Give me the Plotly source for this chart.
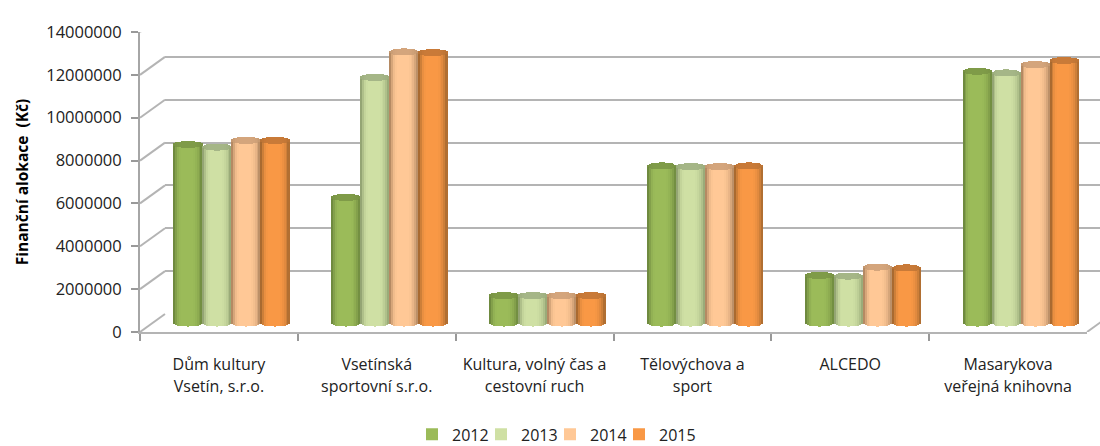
import math
import plotly.graph_objects as go

W, H = 1100, 446
labels_line1 = ["Dům kultury", "Vsetínská", "Kultura, volný čas a", "Tělovýchova a", "ALCEDO", "Masarykova"]
labels_line2 = ["Vsetín, s.r.o.", "sportovní s.r.o.", "cestovní ruch", "sport", " ", "veřejná knihovna"]
years = ["2012", "2013", "2014", "2015"]
values_2012 = [8330000, 5860000, 1280000, 7330000, 2220000, 11750000]
values_2013 = [8210000, 11460000, 1280000, 7300000, 2190000, 11670000]
values_2014 = [8520000, 12650000, 1280000, 7300000, 2610000, 12060000]
values_2015 = [8520000, 12620000, 1280000, 7330000, 2570000, 12250000]
y_ticks = [0, 2000000, 4000000, 6000000, 8000000, 10000000, 12000000, 14000000]
series = [values_2012, values_2013, values_2014, values_2015]
base_colors = ["#9BBB59", "#CFE0A4", "#FFC896", "#F99845"]
edge_colors = ["#6F8A3F", "#94A574", "#B58A63", "#A96A30"]
cap_colors = ["#7F9B48", "#A5B687", "#D4A57C", "#C97A38"]
shade = [1.0, 0.55, 0.2, 0.05, 0.0, 0.0, 0.0, 0.0, 0.0, 0.0, 0.05, 0.15, 0.3, 0.55, 0.9]

LEFT, RIGHT, TOP, BOTTOM = 140, 1087, 32, 332
DX, DY = 25, 18
PAD = 10
MAX = 14000000
per_px = MAX / (BOTTOM - TOP)
group_px = (RIGHT - LEFT) / 6
cyl_w = 29 / group_px
cap_b = 3.5 * per_px


def mix(a, b, t):
    ca = [int(a[i:i + 2], 16) for i in (1, 3, 5)]
    cb = [int(b[i:i + 2], 16) for i in (1, 3, 5)]
    return "rgb(%d,%d,%d)" % tuple(round(p + (q - p) * t) for p, q in zip(ca, cb))


def dom(a, b, size):
    return [a / size, min(b / size, 1)]


fig = go.Figure()
cats = list(range(6))
fig.add_trace(go.Scatter(x=labels_line1, y=[None] * 6, mode="none", showlegend=False, hoverinfo="skip"))
fig.add_trace(go.Scatter(x=labels_line2, y=[None] * 6, mode="none", showlegend=False, hoverinfo="skip",
                         xaxis="x4", yaxis="y"))
fig.add_trace(go.Scatter(x=[0], y=[0], mode="none", showlegend=False, hoverinfo="skip", xaxis="x2", yaxis="y2"))

n = len(shade)
for s, vals in enumerate(series):
    for k, t in enumerate(shade):
        u = (k + 0.5) / n * 2 - 1
        rise = cap_b * math.sqrt(1 - u * u)
        xs = [c + 0.5 + (s - 1.5) * cyl_w + u * cyl_w / 2 for c in cats]
        color = mix(base_colors[s], edge_colors[s], t)
        first = k == 7
        fig.add_trace(go.Bar(
            x=xs, y=[v for v in vals], base=[-rise] * 6, width=cyl_w / n, xaxis="x3", yaxis="y3",
            marker=dict(color=color, line=dict(width=0)),
            name=years[s], showlegend=first, legendgroup=years[s], hoverinfo="skip"))
        fig.add_trace(go.Bar(
            x=xs, y=[2 * rise] * 6, base=[v - rise for v in vals], width=cyl_w / n, xaxis="x3", yaxis="y3",
            marker=dict(color=mix(cap_colors[s], edge_colors[s], t * 0.5), line=dict(width=0)),
            showlegend=False, legendgroup=years[s], hoverinfo="skip"))

# Empty, transparent legend entry: keeps the last year's label inside the legend's clip box.
fig.add_trace(go.Bar(x=[0], y=[0], width=0, xaxis="x3", yaxis="y3", name="\u00a0", showlegend=True,
                     marker=dict(color="rgba(0,0,0,0)", line=dict(width=0)), hoverinfo="skip"))

GRID = "#B4B4B4"
font_y = dict(family="Open Sans", size=16.5, color="#222222")
font_x = dict(family="Open Sans", size=16, color="#222222")

shapes = []
for v in y_ticks:
    shapes.append(dict(type="line", xref="paper", yref="y", layer="below",
                       x0=LEFT / W, x1=(LEFT + DX) / W, y0=v, y1=v + DY * per_px,
                       line=dict(color=GRID, width=2)))
shapes.append(dict(type="line", xref="paper", yref="y", layer="below",
                   x0=RIGHT / W, x1=(RIGHT + DX) / W, y0=0, y1=DY * per_px,
                   line=dict(color=GRID, width=2)))

fig.update_layout(
    width=W, height=H, margin=dict(l=0, r=0, t=0, b=0, autoexpand=False),
    paper_bgcolor="white", plot_bgcolor="rgba(0,0,0,0)",
    barmode="overlay", bargap=0, shapes=shapes,
    xaxis=dict(domain=dom(LEFT, RIGHT, W), type="category", categoryorder="array", categoryarray=labels_line1,
               range=[-0.5, 5.5], tickson="boundaries", ticks="outside", ticklen=7, tickwidth=2,
               tickcolor="#999999", showline=True, linecolor=GRID, linewidth=2, showgrid=False, tickfont=font_x,
               ticklabelstandoff=17, automargin=False),
    yaxis=dict(domain=dom(H - BOTTOM, H - TOP, H), range=[0, MAX], tickvals=y_ticks,
               tickformat="d", ticks="outside", ticklen=7, tickwidth=2, tickcolor="#999999",
               showline=True, linecolor="#A6A6A6", linewidth=2, showgrid=False, zeroline=False,
               tickfont=font_y, ticklabelstandoff=6, automargin=False,
               title=dict(text="<b>Finanční alokace  (Kč)</b>", standoff=14,
                          font=dict(family="Open Sans", size=15.5, color="#000000"))),
    xaxis2=dict(domain=dom(LEFT + DX, W, W), range=[0, 1], visible=False),
    yaxis2=dict(domain=dom(H - BOTTOM + DY, H - TOP + DY, H), range=[0, MAX], tickvals=y_ticks,
                showgrid=True, gridcolor=GRID, gridwidth=2, showticklabels=False, ticks="",
                showline=False, zeroline=False),
    xaxis3=dict(domain=dom(LEFT + DX / 2, RIGHT + DX / 2, W), range=[0, 6], visible=False),
    yaxis3=dict(domain=dom(H - BOTTOM + DY / 2 - PAD, H - TOP + DY / 2, H),
                range=[-PAD * per_px, MAX], visible=False),
    xaxis4=dict(overlaying="x", anchor="y", side="bottom", type="category", categoryorder="array",
                categoryarray=labels_line2, range=[-0.5, 5.5], tickson="boundaries", ticks="", showline=False,
                showgrid=False, tickfont=font_x, ticklabelstandoff=43, automargin=False),
    legend=dict(orientation="h", x=412 / W, xanchor="left", y=0.026, yanchor="middle",
                font=dict(family="Open Sans", size=16, color="#222222"), traceorder="normal",
                entrywidth=24, entrywidthmode="pixels"),
)
fig.write_html("out.html", config=dict(displayModeBar=False),
               post_script="document.body.style.margin='0';window.dispatchEvent(new Event('resize'));")
